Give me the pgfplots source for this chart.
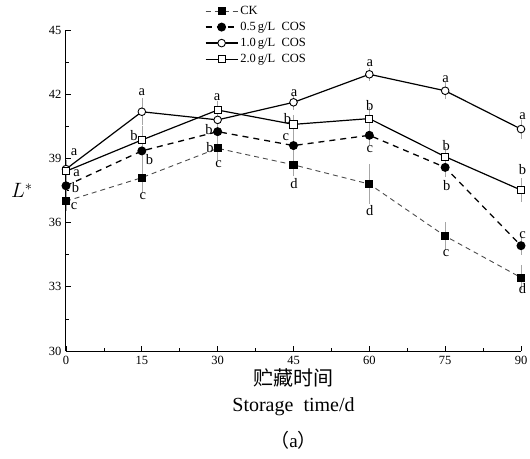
\documentclass[border=0pt]{standalone}
\usepackage{fontspec}
\setmainfont{Liberation Serif}
\newfontfamily\cjk{Noto Sans CJK SC}
\usepackage{pgfplots}
\pgfplotsset{compat=1.18}
\usepackage{pgfplotstable}

\pgfplotstableread{
x y e
0 37.0 0.3
15 38.1 0.6
30 39.47 0.4
45 38.7 0.4
60 37.8 0.8
75 35.37 0.5
90 33.43 0.45
}\ck
\pgfplotstableread{
x y e
0 37.72 0.3
15 39.35 0.5
30 40.25 0.3
45 39.6 0.4
60 40.08 0.3
75 38.58 0.3
90 34.92 0.28
}\half
\pgfplotstableread{
x y e
0 38.5 0.3
15 41.18 0.5
30 40.8 0.3
45 41.62 0.2
60 42.93 0.15
75 42.16 0.25
90 40.37 0.3
}\one
\pgfplotstableread{
x y e
0 38.4 0.3
15 39.86 0.5
30 41.26 0.3
45 40.59 0.3
60 40.86 0.4
75 39.08 0.3
90 37.52 0.41
}\two

\begin{document}
\begin{tikzpicture}
\useasboundingbox (-66pt,-107pt) rectangle (464pt,351pt);
\begin{axis}[
  at={(0,0)}, anchor=south west,
  scale only axis, width=455pt, height=321pt,
  xmin=0, xmax=90, ymin=30, ymax=45,
  axis lines=left, axis line style={-, line width=1pt},
  xtick={0,15,...,90}, ytick={30,33,...,45},
  minor x tick num=1, minor y tick num=1,
  tick align=inside,
  major tick length=5pt, minor tick length=3pt,
  tick style={black, line width=0.8pt},
  /pgf/number format/assume math mode=true,
  tick label style={font=\fontsize{12.5}{12.5}\selectfont},
  xticklabel style={yshift=-2pt},
  yticklabel style={xshift=-1pt},
  clip=false,
  ylabel={$L^*$},
  ylabel style={rotate=-90, at={(axis description cs:-0.097,0.5)}, anchor=center, font=\fontsize{21}{21}\selectfont},
  legend cell align=left,
  legend style={draw=none, fill=none, font=\fontsize{12.5}{13}\selectfont,
    at={(axis description cs:0.305,1.081)}, anchor=north west,
    row sep=2.2pt, inner sep=0pt,
    /tikz/every even column/.append style={column sep=2pt}},
  legend image code/.code={\draw[mark repeat=2,mark phase=2,#1] plot coordinates {(0pt,0pt) (16pt,0pt) (32pt,0pt)};},
  error bars/error bar style={draw=gray!70, line width=0.6pt, solid},
  error bars/error mark options={draw=gray!70, mark size=3pt, line width=0.6pt, solid},
]
% error bars first (behind lines and marks)
\addplot[forget plot, gray!70, draw opacity=1, only marks, mark=none, error bars/.cd, y dir=both, y explicit] table[x=x, y=y, y error=e] {\ck};
\addplot[forget plot, gray!70, only marks, mark=none, error bars/.cd, y dir=both, y explicit] table[x=x, y=y, y error=e] {\half};
\addplot[forget plot, gray!70, only marks, mark=none, error bars/.cd, y dir=both, y explicit] table[x=x, y=y, y error=e] {\one};
\addplot[forget plot, gray!70, only marks, mark=none, error bars/.cd, y dir=both, y explicit] table[x=x, y=y, y error=e] {\two};

\addplot[gray!60!black, line width=0.9pt, dash pattern=on 5pt off 4pt, mark=square*, mark size=3.6pt, mark options={solid, fill=black, draw=black}] table[x=x, y=y] {\ck};
\addlegendentry{CK}
\addplot[black, line width=1.3pt, dash pattern=on 6pt off 5pt, mark=*, mark size=3.8pt, mark options={solid, fill=black, draw=black}] table[x=x, y=y] {\half};
\addlegendentry{0.5\,g/L\ \ COS}
\addplot[black, line width=1.2pt, mark=*, mark size=3.8pt, mark options={solid, fill=white, draw=black, line width=0.9pt}] table[x=x, y=y] {\one};
\addlegendentry{1.0\,g/L\ \ COS}
\addplot[black, line width=1.2pt, mark=square*, mark size=3.6pt, mark options={solid, fill=white, draw=black, line width=0.9pt}] table[x=x, y=y] {\two};
\addlegendentry{2.0\,g/L\ \ COS}

\begin{scope}[every node/.style={font=\fontsize{14.5}{14.5}\selectfont, inner sep=0pt}]
\node at (axis cs:1.6,39.27) {a};
\node at (axis cs:2.1,38.33) {a};
\node at (axis cs:1.9,37.62) {b};
\node at (axis cs:1.6,36.78) {c};
\node at (axis cs:15,42.09) {a};
\node at (axis cs:13.45,40.09) {b};
\node at (axis cs:16.5,38.97) {b};
\node at (axis cs:15.2,37.24) {c};
\node at (axis cs:29.9,41.84) {a};
\node at (axis cs:28.3,40.36) {b};
\node at (axis cs:28.5,39.52) {b};
\node at (axis cs:30.2,38.72) {c};
\node at (axis cs:45.1,42.04) {a};
\node at (axis cs:43.8,40.87) {b};
\node at (axis cs:43.5,39.97) {c};
\node at (axis cs:45.1,37.84) {d};
\node at (axis cs:60.1,43.47) {a};
\node at (axis cs:60.1,41.46) {b};
\node at (axis cs:60.1,39.43) {c};
\node at (axis cs:60.1,36.56) {d};
\node at (axis cs:75.1,42.7) {a};
\node at (axis cs:75.2,39.58) {b};
\node at (axis cs:75.3,37.71) {b};
\node at (axis cs:75.2,34.57) {c};
\node at (axis cs:90.3,40.95) {a};
\node at (axis cs:90.3,38.49) {b};
\node at (axis cs:90.3,35.39) {c};
\node at (axis cs:90.3,32.93) {d};
\end{scope}

\node[font=\fontsize{20}{20}\selectfont\cjk, anchor=center] at (axis description cs:0.5,-0.084) {贮藏时间};
\node[font=\fontsize{20}{20}\selectfont, anchor=center] at (axis description cs:0.5,-0.174) {Storage\ \ time/d};
\node[font=\fontsize{19}{19}\selectfont, anchor=center] at (axis description cs:0.5,-0.277) {{\cjk （}a{\cjk ）}};
\end{axis}
\end{tikzpicture}
\end{document}
